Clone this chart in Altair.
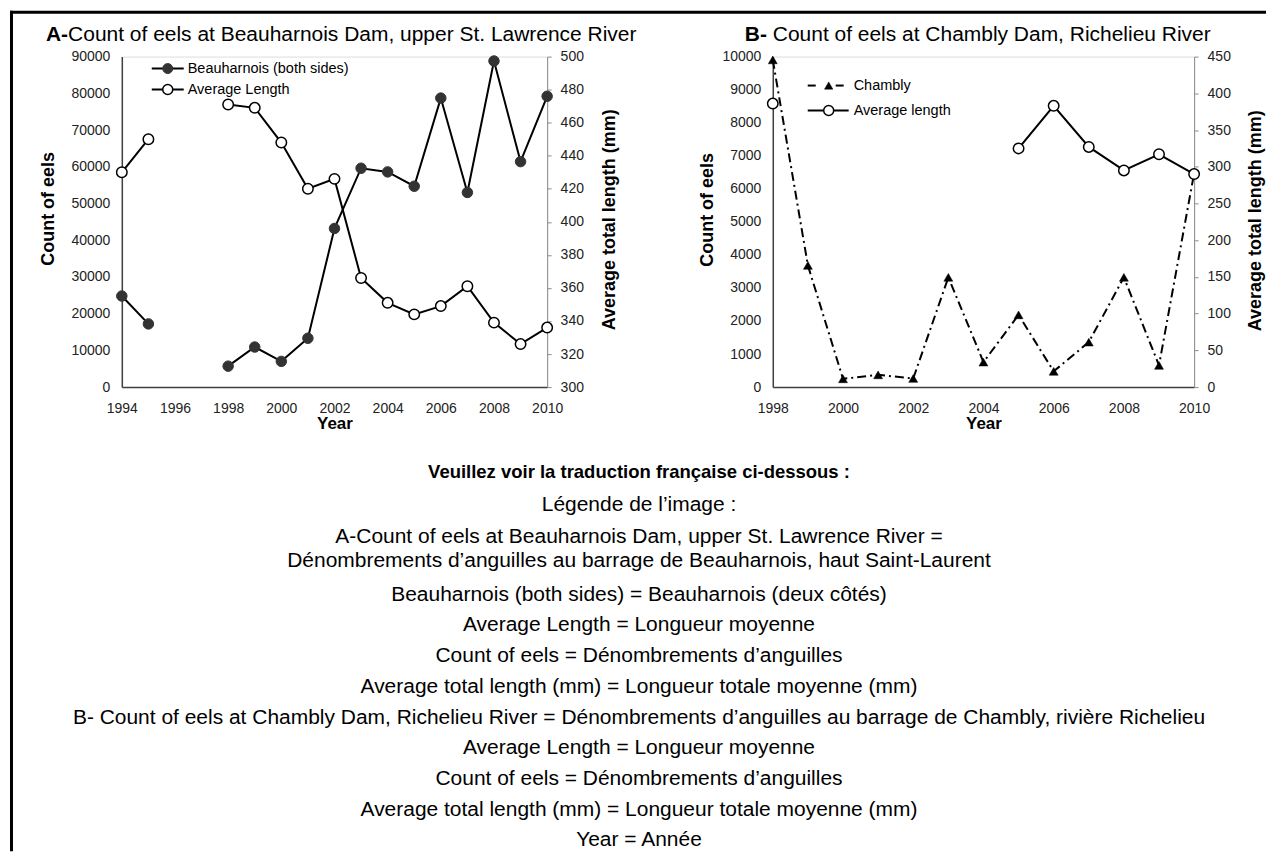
import altair as alt
import pandas as pd

FONT = "Liberation Sans"

# ---------------- data: panel A (Beauharnois) ----------------
years_a = [1994, 1995, 1998, 1999, 2000, 2001, 2002, 2003, 2004, 2005, 2006, 2007, 2008, 2009, 2010]
count_a = [24800, 17200, 5700, 10900, 7000, 13300, 43200, 59600, 58600, 54700, 78700, 53000, 88800, 61400, 79200]
length_a = [430, 450, 471, 469, 448, 420, 426, 366, 351, 344, 349, 361, 339, 326, 336]
x_ticks_a = [1994, 1996, 1998, 2000, 2002, 2004, 2006, 2008, 2010]
y_ticks_a = [0, 10000, 20000, 30000, 40000, 50000, 60000, 70000, 80000, 90000]
y2_ticks_a = [300, 320, 340, 360, 380, 400, 420, 440, 460, 480, 500]

# ---------------- data: panel B (Chambly) ----------------
years_b = [1998, 1999, 2000, 2001, 2002, 2003, 2004, 2005, 2006, 2007, 2008, 2009, 2010]
count_b = [9900, 3680, 250, 370, 260, 3320, 755, 2185, 475, 1360, 3320, 655, 6470]
length_years_b = [1998, 2005, 2006, 2007, 2008, 2009, 2010]
length_b = [386, 325, 383, 327, 295, 317, 290]
x_ticks_b = [1998, 2000, 2002, 2004, 2006, 2008, 2010]
y_ticks_b = [0, 1000, 2000, 3000, 4000, 5000, 6000, 7000, 8000, 9000, 10000]
y2_ticks_b = [0, 50, 100, 150, 200, 250, 300, 350, 400, 450]

# ---------------- text ----------------
title_a_bold = "A-"
title_a_rest = "Count of eels at Beauharnois Dam, upper St. Lawrence River"
title_b_bold = "B-"
title_b_rest = "Count of eels at Chambly Dam, Richelieu River"
legend_a = ["Beauharnois (both sides)", "Average Length"]
legend_b = ["Chambly", "Average length"]
heading = "Veuillez voir la traduction française ci-dessous :"
caption_lines = [
    "Légende de l’image :",
    "A-Count of eels at Beauharnois Dam, upper St. Lawrence River =",
    "Dénombrements d’anguilles au barrage de Beauharnois, haut Saint-Laurent",
    "Beauharnois (both sides) = Beauharnois (deux côtés)",
    "Average Length = Longueur moyenne",
    "Count of eels = Dénombrements d’anguilles",
    "Average total length (mm) = Longueur totale moyenne (mm)",
    "B- Count of eels at Chambly Dam, Richelieu River = Dénombrements d’anguilles au barrage de Chambly, rivière Richelieu",
    "Average Length = Longueur moyenne",
    "Count of eels = Dénombrements d’anguilles",
    "Average total length (mm) = Longueur totale moyenne (mm)",
    "Year = Année",
]


def segments(years):
    out, s = [], 0
    for i, y in enumerate(years):
        if i > 0 and y - years[i - 1] > 1:
            s += 1
        out.append(s)
    return out


df_a_count = pd.DataFrame({"year": years_a, "count": count_a, "seg": segments(years_a)})
df_a_len = pd.DataFrame({"year": years_a, "length": length_a, "seg": segments(years_a)})
df_b_count = pd.DataFrame({"year": years_b, "count": count_b})
df_b_len = pd.DataFrame({"year": length_years_b, "length": length_b, "seg": segments(length_years_b)})

# layout (pixels)
OX_A, OY = 120, 54          # page position of panel A plot origin
W_A, W_B, H = 426, 422, 331
GAP = 226


def one():
    return pd.DataFrame({"k": [0]})


def text(txt, x, y, size, weight="normal", align="left", color="black"):
    return alt.Chart(one()).mark_text(
        text=txt, font=FONT, fontSize=size, fontWeight=weight, align=align,
        baseline="middle", color=color
    ).encode(x=alt.value(x), y=alt.value(y))


def hrule(x1, x2, y, width=2.0, dash=None, color="black"):
    kw = dict(color=color, strokeWidth=width)
    if dash:
        kw["strokeDash"] = dash
    return alt.Chart(one()).mark_rule(**kw).encode(x=alt.value(x1), x2=alt.value(x2), y=alt.value(y))


def vrule(x, y1, y2, width=2.0, color="black"):
    return alt.Chart(one()).mark_rule(color=color, strokeWidth=width).encode(
        x=alt.value(x), y=alt.value(y1), y2=alt.value(y2))


def symbol(x, y, shape, fill, stroke, size, sw=1.5):
    return alt.Chart(one()).mark_point(
        shape=shape, filled=True, fill=fill, stroke=stroke, strokeWidth=sw, size=size, opacity=1
    ).encode(x=alt.value(x), y=alt.value(y))


def x_axis(ticks, W):
    return alt.Axis(values=ticks, format="d", title="Year", titleX=W / 2, titleY=36,
                    titleAlign="center", titleBaseline="middle", titleFontSize=17,
                    titleFontWeight="bold", titleColor="black", titleFont=FONT,
                    labelFont=FONT, labelFontSize=14, labelColor="#222222", labelPadding=14,
                    ticks=False, domainColor="#404040", domainWidth=1.5, grid=False,
                    labelOverlap=False, labelFlush=False)


def y_left(ticks, tx, ty):
    return alt.Axis(values=ticks, format="d", title="Count of eels", titleX=tx, titleY=ty,
                    titleAngle=270, titleAlign="center", titleBaseline="middle",
                    titleFontSize=18, titleFontWeight="bold", titleFont=FONT, titleColor="black",
                    labelFont=FONT, labelFontSize=14, labelColor="#222222", labelPadding=12,
                    ticks=False, domainColor="#404040", domainWidth=1.5, grid=False,
                    labelOverlap=False, labelFlush=False)


def y_right(ticks, tx, ty):
    return alt.Axis(orient="right", values=ticks, format="d", title="Average total length (mm)",
                    titleX=tx, titleY=ty, titleAngle=270, titleAlign="center", titleBaseline="middle",
                    titleFontSize=18, titleFontWeight="bold", titleFont=FONT, titleColor="black",
                    labelFont=FONT, labelFontSize=14, labelColor="#222222", labelPadding=9,
                    ticks=True, tickSize=4, tickColor="#8c8c8c", tickWidth=1,
                    domainColor="#8c8c8c", domainWidth=1, grid=False,
                    labelOverlap=False, labelFlush=False)


# ---------------- panel A ----------------
xA = alt.X("year:Q", scale=alt.Scale(domain=[1994, 2010], nice=False, zero=False),
           axis=x_axis(x_ticks_a, W_A))
yA = alt.Y("count:Q", scale=alt.Scale(domain=[0, 90000], nice=False), axis=y_left(y_ticks_a, -73, 152))
y2A = alt.Y("length:Q", scale=alt.Scale(domain=[300, 500], nice=False, zero=False),
            axis=y_right(y2_ticks_a, 62, 163))

count_layer_a = alt.layer(
    alt.Chart(df_a_count).mark_line(color="black", strokeWidth=2).encode(x=xA, y=yA, detail="seg:N"),
    alt.Chart(df_a_count).mark_point(shape="circle", filled=True, fill="#333333", stroke="#333333",
                                     strokeWidth=1, size=110, opacity=1).encode(x=xA, y=yA),
)
len_layer_a = alt.layer(
    alt.Chart(df_a_len).mark_line(color="black", strokeWidth=2).encode(x=xA, y=y2A, detail="seg:N"),
    alt.Chart(df_a_len).mark_point(shape="circle", filled=True, fill="white", stroke="black",
                                   strokeWidth=1.5, size=110, opacity=1).encode(x=xA, y=y2A),
)

# caption block (page coordinates converted to panel-A-relative)
CX = 638 - OX_A
heading_y = 470
caption_y = [503, 535, 559, 593, 623, 654, 685, 716, 747, 778, 809, 839]
caption = [text(heading, CX, heading_y - OY, 18.5, "bold", align="center")]
for t, yy in zip(caption_lines, caption_y):
    caption.append(text(t, CX, yy - OY, 21, align="center"))

annot_a = [
    # frame of the whole figure
    vrule(-110.5, -46, 796, width=3),
    hrule(-112, 1146, -44.5, width=3),
    # title
    text(title_a_bold, -76, -22, 21, "bold"),
    text(title_a_rest, -76 + 22.2, -22, 21),
    # legend
    hrule(30, 62, 12), symbol(46, 12, "circle", "#333333", "#333333", 100, 1),
    text(legend_a[0], 66, 12, 14.5),
    hrule(30, 62, 33), symbol(46, 33, "circle", "white", "black", 100, 1.5),
    text(legend_a[1], 66, 33, 14.5),
] + caption

panel_a = alt.layer(count_layer_a, len_layer_a, *annot_a).resolve_scale(y="independent").properties(
    width=W_A, height=H)

# ---------------- panel B ----------------
xB = alt.X("year:Q", scale=alt.Scale(domain=[1998, 2010], nice=False, zero=False),
           axis=x_axis(x_ticks_b, W_B))
yB = alt.Y("count:Q", scale=alt.Scale(domain=[0, 10000], nice=False), axis=y_left(y_ticks_b, -65, 153))
y2B = alt.Y("length:Q", scale=alt.Scale(domain=[0, 450], nice=False), axis=y_right(y2_ticks_b, 61, 164))

DASH = [9, 4, 2, 4]
count_layer_b = alt.layer(
    alt.Chart(df_b_count).mark_line(color="black", strokeWidth=2, strokeDash=DASH).encode(x=xB, y=yB),
    alt.Chart(df_b_count).mark_point(shape="triangle-up", filled=True, fill="black", stroke="black",
                                     strokeWidth=0.5, size=80, opacity=1).encode(x=xB, y=yB),
)
len_layer_b = alt.layer(
    alt.Chart(df_b_len).mark_line(color="black", strokeWidth=2).encode(x=xB, y=y2B, detail="seg:N"),
    alt.Chart(df_b_len).mark_point(shape="circle", filled=True, fill="white", stroke="black",
                                   strokeWidth=1.5, size=110, opacity=1).encode(x=xB, y=y2B),
)

annot_b = [
    text(title_b_bold, -28, -22, 21, "bold"),
    text(title_b_rest, -28 + 22.2 + 5.8, -22, 21),
    hrule(35, 43, 29), hrule(63, 71, 29),
    symbol(56, 29, "triangle-up", "black", "black", 70, 0.5),
    text(legend_b[0], 81, 29, 14.5),
    hrule(35, 76, 54), symbol(56, 54, "circle", "white", "black", 100, 1.5),
    text(legend_b[1], 81, 54, 14.5),
]

panel_b = alt.layer(count_layer_b, len_layer_b, *annot_b).resolve_scale(y="independent").properties(
    width=W_B, height=H)

chart = alt.hconcat(panel_a, panel_b, spacing=GAP, bounds="flush", padding=0).configure_view(
    strokeWidth=0, stroke="transparent").configure(background="white")

chart.save("out.html", embed_options={"renderer": "svg", "actions": False})
